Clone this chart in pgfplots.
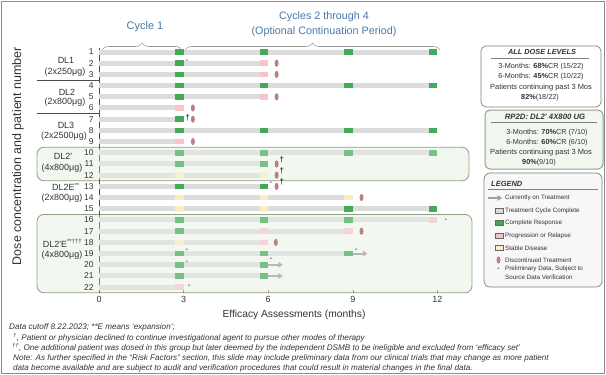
\documentclass[border=0pt]{standalone}
\usepackage{pgfplots}
\pgfplotsset{compat=1.18}
\usepackage{fontspec}
\setmainfont{Liberation Sans}
\usetikzlibrary{decorations.pathreplacing,arrows.meta,plotmarks}

\definecolor{barG}{HTML}{DCDCDC}
\definecolor{cr}{HTML}{43AA5A}
\definecolor{pd}{HTML}{F5C5C9}
\definecolor{sd}{HTML}{FBEFC2}
\definecolor{disc}{HTML}{B8827F}
\definecolor{arrowc}{HTML}{9E9E9E}
\definecolor{boxF}{HTML}{F2F7F0}
\definecolor{boxD}{HTML}{8FA086}
\definecolor{blueT}{HTML}{4A78A8}
\definecolor{txt}{HTML}{333333}

\pgfdeclareplotmark{discell}{%
  \pgfpathellipse{\pgfpointorigin}{\pgfqpoint{2bp}{0bp}}{\pgfqpoint{0bp}{3.6bp}}%
  \pgfusepathqfill}

\newcommand{\fs}[1]{\fontsize{#1}{#1}\selectfont}

\pgfplotstableread{
row end
1 12
2 6
3 6
4 12
5 6
6 3
7 3
8 12
9 3
10 12
11 6
12 6
13 6
14 9
15 12
16 12
17 9
18 6
19 9
20 6
21 6
22 3
}\graybars

\pgfplotstableread{
x y
3 1
6 1
9 1
12 1
3 2
3 3
3 4
6 4
9 4
12 4
3 5
3 7
3 8
6 8
9 8
12 8
3 10
6 10
9 10
12 10
3 11
6 11
3 13
6 13
9 15
12 15
3 16
6 16
9 16
3 17
3 19
6 19
9 19
3 20
6 20
3 21
6 21
}\crblocks

\pgfplotstableread{
x y
6 2
6 3
6 5
3 6
3 9
12 16
6 17
9 17
6 18
3 22
}\pdblocks

\pgfplotstableread{
x y
3 12
6 12
3 14
6 14
9 14
3 15
6 15
3 18
}\sdblocks

\pgfplotstableread{
x y
6.3 2
6.3 3
6.3 5
3.33 6
3.33 7
3.33 9
6.3 11
6.3 12
6.3 13
9.31 14
9.31 17
6.27 18
}\discpts

\begin{document}
\begin{tikzpicture}
\useasboundingbox (0,0) rectangle (606bp,-375bp);
\draw[black!45, line width=1.2bp] (1.5bp,-1.5bp) rectangle (604.5bp,-373.5bp);

% group boxes (behind the axis)
\draw[boxD, fill=boxF, line width=0.8bp, rounded corners=7bp] (37bp,-147.2bp) rectangle (469bp,-180.8bp);
\draw[boxD, fill=boxF, line width=0.8bp, rounded corners=7bp] (37bp,-214.4bp) rectangle (472bp,-292.8bp);
\draw[black!70, line width=0.7bp] (37bp,-80bp) -- (99bp,-80bp);
\draw[black!70, line width=0.7bp] (37bp,-113.6bp) -- (99bp,-113.6bp);

\begin{axis}[
  at={(99bp,-293bp)}, anchor=south west,
  scale only axis, width=372.2bp, height=245bp,
  xmin=0, xmax=13.2, ymin=0.643, ymax=22.52, y dir=reverse,
  axis x line*=bottom, axis y line*=left,
  x axis line style={draw=none},
  y axis line style={draw=black!70, line width=0.7bp},
  xtick={0,3,6,9,12}, ytick={1,...,22},
  ytick style={draw=none},
  xtick style={draw=black!50, line width=0.5bp},
  major tick length=3bp,
  tick label style={font=\fs{8.5}, text=txt},
  yticklabel style={xshift=-2bp},
  xticklabel style={font=\fs{9}},
  /pgf/number format/assume math mode=true,
  clip=false,
]
% treatment bars
\addplot[draw=none, mark=none, error bars/.cd, x dir=minus, x explicit, error mark=none,
  error bar style={draw=barG, line width=5bp}]
  table[x=end, y=row, x error=end] {\graybars};
% assessment blocks
\addplot[draw=none, mark=none, error bars/.cd, x dir=minus, x fixed=0.3, error mark=none,
  error bar style={draw=cr, line width=5.5bp}] table[x=x, y=y] {\crblocks};
\addplot[draw=none, mark=none, error bars/.cd, x dir=minus, x fixed=0.3, error mark=none,
  error bar style={draw=pd, line width=5.5bp}] table[x=x, y=y] {\pdblocks};
\addplot[draw=none, mark=none, error bars/.cd, x dir=minus, x fixed=0.3, error mark=none,
  error bar style={draw=sd, line width=5.5bp}] table[x=x, y=y] {\sdblocks};
% arrows (currently on treatment)
\addplot[arrowc, line width=2bp, -{Triangle[length=4.5bp,width=5.5bp]}] coordinates {(9,19) (9.52,19)};
\addplot[arrowc, line width=2bp, -{Triangle[length=4.5bp,width=5.5bp]}] coordinates {(6,20) (6.52,20)};
\addplot[arrowc, line width=2bp, -{Triangle[length=4.5bp,width=5.5bp]}] coordinates {(6,21) (6.52,21)};
% discontinued
\addplot[only marks, mark=discell, disc] table[x=x, y=y] {\discpts};
% daggers
\addplot[only marks, mark=text, text mark={\textcolor{black}{\fs{8}\textdagger}}]
  coordinates {(3.15,6.85) (6.48,10.6) (6.48,11.65) (6.48,12.6)};
% preliminary data asterisks
\addplot[only marks, mark=text, text mark={\textcolor{black!75}{\fs{5.5}*}}]
  coordinates {(3.12,1.85) (6.1,12.75) (12.3,16.1) (3.12,18.75) (9.12,18.75) (3.12,19.85) (6.1,19.55) (3.2,21.95)};
% tint over rows inside highlighted groups
\fill[boxF, fill opacity=0.3] (axis cs:0,9.58) rectangle (axis cs:12.9,12.42);
\fill[boxF, fill opacity=0.3] (axis cs:0,15.58) rectangle (axis cs:12.9,22.42);
\end{axis}

% y label
\node[rotate=90, font=\fs{12.5}, text=txt] at (18bp,-156bp) {Dose concentration and patient number};

% cycle annotations
\node[font=\fs{11}, text=blueT] at (145bp,-27bp) {Cycle 1};
\node[font=\fs{10.8}, text=blueT] at (324bp,-17bp) {Cycles 2 through 4};
\node[font=\fs{10.8}, text=blueT] at (324bp,-32bp) {(Optional Continuation Period)};
\draw[black!40, line width=0.6bp, decorate, decoration={brace, amplitude=7bp}] (102bp,-50bp) -- (182bp,-50bp);
\draw[black!40, line width=0.6bp, decorate, decoration={brace, amplitude=7bp}] (185bp,-50bp) -- (440bp,-50bp);

% group labels
\begin{scope}[every node/.style={font=\fs{9}, text=txt, inner sep=0pt}]
\node at (66bp,-60bp) {DL1};
\node at (65bp,-72bp) {(2x250μg)};
\node at (67bp,-92bp) {DL2};
\node at (65bp,-102bp) {(2x800μg)};
\node at (66bp,-125bp) {DL3};
\node at (64bp,-136bp) {(2x2500μg)};
\node at (63bp,-156bp) {DL2\textquotesingle};
\node at (62bp,-168bp) {(4x800μg)};
\node at (66bp,-187bp) {DL2E\textsuperscript{**}};
\node at (62bp,-198bp) {(2x800μg)};
\node at (62.5bp,-243bp) {DL2\textquotesingle E\textsuperscript{**†††}};
\node at (62bp,-255bp) {(4x800μg)};
\end{scope}

% x label
\node[font=\fs{10.3}, text=txt] at (294bp,-315bp) {Efficacy Assessments (months)};

% footnotes
\begin{scope}[every node/.style={font=\fs{8.15}\itshape, text=txt, anchor=west, inner sep=0pt}]
\node at (9bp,-327bp) {Data cutoff 8.22.2023; **E means ‘expansion’;};
\node at (13bp,-338bp) {\textsuperscript{†}, Patient or physician declined to continue investigational agent to pursue other modes of therapy};
\node at (12bp,-348bp) {\textsuperscript{††}, One additional patient was dosed in this group but later deemed by the independent DSMB to be ineligible and excluded from ‘efficacy set’};
\node at (13bp,-358bp) {Note: As further specified in the “Risk Factors” section, this slide may include preliminary data from our clinical trials that may change as more patient};
\node at (13bp,-368bp) {data become available and are subject to audit and verification procedures that could result in material changes in the final data.};
\end{scope}

% summary box 1
\draw[black!50, fill=white, line width=0.7bp, rounded corners=5bp] (481bp,-46bp) rectangle (601bp,-107bp);
\draw[black!50, line width=0.5bp] (491bp,-58bp) -- (589bp,-58bp);
\begin{scope}[every node/.style={font=\fs{7.3}, text=txt, inner sep=0pt}]
\node[font=\fs{7.4}\bfseries\itshape] at (542bp,-52bp) {ALL DOSE LEVELS};
\node at (541bp,-67bp) {3-Months: \textbf{68\%}CR (15/22)};
\node at (541bp,-77bp) {6-Months: \textbf{45\%}CR (10/22)};
\node[font=\fs{7.5}] at (541bp,-88bp) {Patients continuing past 3 Mos};
\node at (540bp,-98bp) {\textbf{82\%}(18/22)};
\end{scope}

% summary box 2
\draw[boxD, fill=boxF, line width=1bp, rounded corners=5bp] (485bp,-110bp) rectangle (603bp,-169bp);
\draw[black!50, line width=0.5bp] (491bp,-122bp) -- (597bp,-122bp);
\begin{scope}[every node/.style={font=\fs{7.3}, text=txt, inner sep=0pt}]
\node[font=\fs{7.8}\bfseries\itshape] at (545bp,-117bp) {RP2D: DL2\textquotesingle{} 4X800 UG};
\node at (547bp,-133bp) {3-Months: \textbf{70\%}CR (7/10)};
\node at (547bp,-143bp) {6-Months: \textbf{60\%}CR (6/10)};
\node[font=\fs{7.5}] at (541bp,-153bp) {Patients continuing past 3 Mos};
\node at (539bp,-163bp) {\textbf{90\%}(9/10)};
\end{scope}

% legend box
\draw[black!50, fill=black!3, line width=0.7bp, rounded corners=6bp] (484bp,-173bp) rectangle (602bp,-287bp);
\node[font=\fs{7.5}\bfseries\itshape, text=txt, anchor=west, inner sep=0pt] at (491bp,-184bp) {LEGEND};
\draw[black!50, line width=0.5bp] (488bp,-189bp) -- (598bp,-189bp);
\draw[arrowc, line width=2bp, -{Triangle[length=4.5bp,width=5.5bp]}] (488bp,-198bp) -- (502bp,-198bp);
\draw[black!60, line width=0.4bp, fill=barG] (495bp,-208.5bp) rectangle (503bp,-213.5bp);
\draw[black!60, line width=0.4bp, fill=cr] (495bp,-220.5bp) rectangle (503bp,-225.5bp);
\draw[black!60, line width=0.4bp, fill=pd] (495bp,-233.5bp) rectangle (503bp,-238.5bp);
\draw[black!60, line width=0.4bp, fill=sd] (495bp,-245.5bp) rectangle (503bp,-250.5bp);
\fill[disc] (498.5bp,-260bp) ellipse (2bp and 3.6bp);
\node[font=\fs{5.5}, text=black!75, inner sep=0pt] at (498.5bp,-270bp) {*};
\begin{scope}[every node/.style={font=\fs{6.3}, text=txt, anchor=west, inner sep=0pt}]
\node at (505bp,-198bp) {Currently on Treatment};
\node at (505bp,-211bp) {Treatment Cycle Complete};
\node at (505bp,-223bp) {Complete Response};
\node at (505bp,-236bp) {Progression or Relapse};
\node at (505bp,-248bp) {Stable Disease};
\node at (505bp,-260bp) {Discontinued Treatment};
\node at (505bp,-269bp) {Preliminary Data, Subject to};
\node at (505bp,-277bp) {Source Data Verification};
\end{scope}
\end{tikzpicture}
\end{document}
